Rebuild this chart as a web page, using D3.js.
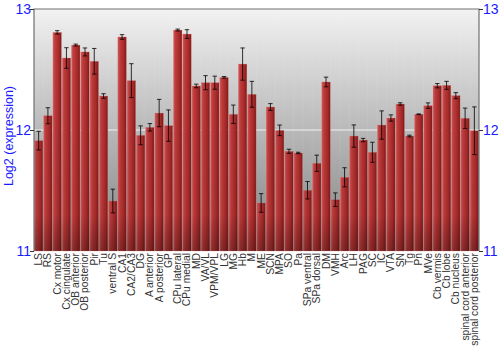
<!DOCTYPE html>
<html><head><meta charset="utf-8">
<script src="https://cdn.jsdelivr.net/npm/d3@7"></script>
<style>body{margin:0;background:#fff}svg{display:block}</style>
</head><body>
<svg id="c" width="500" height="350"></svg>
<script>
const categories = ["LS","RS","Cx motor","Cx cingulate","OB anterior","OB posterior","Pir","Tu","ventral S","CA1","CA2/CA3","DG","A anterior","A posterior","GP","CPu lateral","CPu medial","MD","VA/VL","VPM/VPL","LG","MG","Hb","M","ME","SCN","MPA","SO","Pa","SPa ventral","SPa dorsal","DM","VMH","Arc","LH","PAG","SC","IC","VTA","SN","Tg","Pn","MVe","Cb vermis","Cb lobe","Cb nucleus","spinal cord anterior","spinal cord posterior"];
const values = [11.912,12.118,12.807,12.595,12.702,12.645,12.568,12.281,11.413,12.769,12.408,11.956,12.022,12.140,12.036,12.826,12.793,12.364,12.391,12.391,12.435,12.130,12.545,12.295,11.397,12.190,11.997,11.824,11.810,11.502,11.725,12.397,11.424,11.609,11.950,11.917,11.816,12.041,12.099,12.215,11.950,12.130,12.201,12.366,12.369,12.284,12.097,11.994];
const errors = [0.077,0.066,0.014,0.085,0.008,0.033,0.106,0.019,0.098,0.019,0.14,0.078,0.031,0.113,0.13,0.008,0.036,0.015,0.058,0.054,0.007,0.076,0.133,0.107,0.077,0.028,0.044,0.017,0.006,0.072,0.067,0.04,0.056,0.079,0.092,0.014,0.083,0.117,0.026,0.01,0.007,0.003,0.023,0.018,0.033,0.025,0.084,0.197];
const yTicks = [11,12,13];

const svg = d3.select("#c");
const L = 34, R = 479, T = 9, B = 251;
const x = d3.scaleBand().domain(categories).range([L, R]).paddingInner(0.08).paddingOuter(0.04);
const y = d3.scaleLinear().domain([11, 13]).range([B, T]);

const defs = svg.append("defs");
const bg = defs.append("linearGradient").attr("id","bg").attr("x1",0).attr("y1",0).attr("x2",0).attr("y2",1);
bg.append("stop").attr("offset","0%").attr("stop-color","#f2f2f2");
bg.append("stop").attr("offset","100%").attr("stop-color","#8a8a8a");
const bar = defs.append("linearGradient").attr("id","bar").attr("x1",0).attr("y1",0).attr("x2",1).attr("y2",0);
bar.append("stop").attr("offset","0%").attr("stop-color","#d65a5a");
bar.append("stop").attr("offset","25%").attr("stop-color","#c03c3c");
bar.append("stop").attr("offset","70%").attr("stop-color","#a82a2a");
bar.append("stop").attr("offset","100%").attr("stop-color","#7e1a1a");
const shade = defs.append("linearGradient").attr("id","shade").attr("x1",0).attr("y1",0).attr("x2",0).attr("y2",1);
shade.append("stop").attr("offset","0%").attr("stop-color","#000").attr("stop-opacity",0);
shade.append("stop").attr("offset","85%").attr("stop-color","#000").attr("stop-opacity",0.05);
shade.append("stop").attr("offset","100%").attr("stop-color","#000").attr("stop-opacity",0.3);

svg.append("rect").attr("x",L).attr("y",T).attr("width",R-L).attr("height",B-T).attr("fill","url(#bg)");

// grid line
svg.append("line").attr("x1",L).attr("x2",R).attr("y1",y(12)).attr("y2",y(12)).attr("stroke","#fff").attr("stroke-width",1.2).attr("opacity",0.9);

const g = svg.append("g");
g.selectAll("rect.b").data(categories).join("rect").attr("class","b")
  .attr("x", d => x(d)).attr("width", x.bandwidth())
  .attr("y", (d,i) => y(values[i])).attr("height", (d,i) => B - y(values[i]))
  .attr("fill","url(#bar)").attr("stroke","#e08080").attr("stroke-width",0.5).attr("stroke-opacity",0.6);
g.selectAll("rect.s").data(categories).join("rect").attr("class","s")
  .attr("x", d => x(d)).attr("width", x.bandwidth())
  .attr("y", T).attr("height", B - T)
  .attr("fill","url(#shade)");

// error bars
const eb = svg.append("g").attr("stroke","#000").attr("stroke-opacity",0.8).attr("stroke-width",1);
categories.forEach((c,i) => {
  const cx = x(c) + x.bandwidth()/2;
  const y1 = y(values[i] + errors[i]), y2 = y(values[i] - errors[i]);
  eb.append("line").attr("x1",cx).attr("x2",cx).attr("y1",y1).attr("y2",y2);
  eb.append("line").attr("x1",cx-2.2).attr("x2",cx+2.2).attr("y1",y1).attr("y2",y1);
  eb.append("line").attr("x1",cx-2.2).attr("x2",cx+2.2).attr("y1",y2).attr("y2",y2);
});

// frame
svg.append("path").attr("d",`M${L},${B}V${T}H${R}V${B}`).attr("fill","none").attr("stroke","#707070").attr("stroke-width",1.2);

const font = "Liberation Sans, Arial, sans-serif";
const ya = svg.append("g").attr("transform",`translate(${L},0)`).call(d3.axisLeft(y).tickValues(yTicks).tickSize(4).tickFormat(d3.format("d")));
const yb = svg.append("g").attr("transform",`translate(${R},0)`).call(d3.axisRight(y).tickValues(yTicks).tickSize(4).tickFormat(d3.format("d")));
[ya,yb].forEach(a => {
  a.select(".domain").remove();
  a.selectAll(".tick line").attr("stroke","#333");
  a.selectAll(".tick text").attr("fill","#1a1aff").style("font-family",font).style("font-size","14px");
});
ya.selectAll(".tick text").attr("x",-3);
yb.selectAll(".tick text").attr("x",4);

svg.append("text").attr("transform",`translate(12.5,136) rotate(-90)`).attr("text-anchor","middle")
  .attr("fill","#1a1aff").style("font-family",font).style("font-size","12.5px").text("Log2 (expression)");

const xa = svg.append("g");
xa.selectAll("text").data(categories).join("text")
  .attr("transform", d => `translate(${x(d)+x.bandwidth()/2+3.5},${B+2}) rotate(-90)`)
  .attr("text-anchor","end").attr("fill","#333").style("font-family",font).style("font-size","10.3px")
  .text(d => d);
</script>
</body></html>
